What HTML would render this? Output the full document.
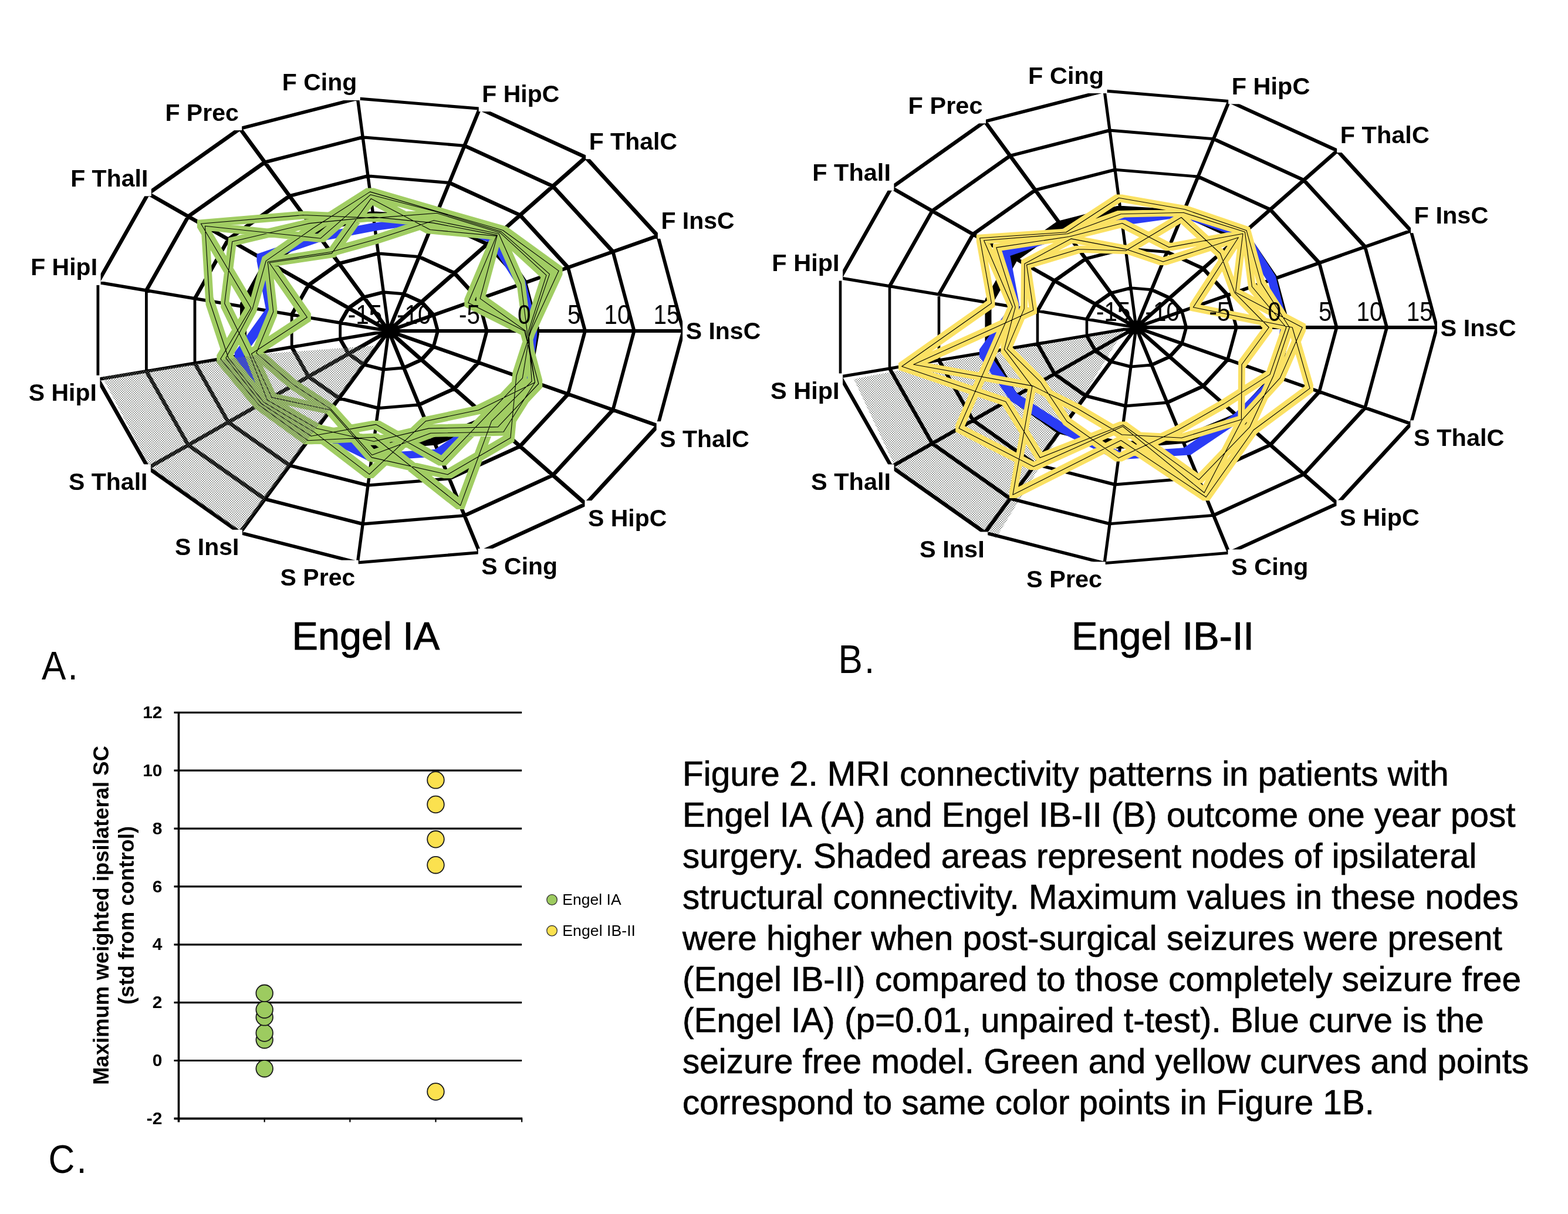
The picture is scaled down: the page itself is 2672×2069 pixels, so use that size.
<!DOCTYPE html>
<html lang="en"><head><meta charset="utf-8"><title>Figure 2</title>
<style>
html,body{margin:0;padding:0;background:#fff}
body{width:2672px;height:2069px;overflow:hidden;position:relative}
svg{position:absolute;left:0;top:0;display:block}
text{font-family:"Liberation Sans",sans-serif;fill:#000}
.b{font-weight:700}
.t{stroke:#000;stroke-width:1.0px}
.cap{position:absolute;left:1163px;top:1283.5px;width:1500px;margin:0;font-family:"Liberation Sans",sans-serif;font-size:58.45px;line-height:70px;color:#000;white-space:nowrap;-webkit-text-stroke:0.7px #000}
</style></head><body>
<svg width="2672" height="2069" viewBox="0 0 2672 2069" xmlns="http://www.w3.org/2000/svg">
<defs>
<pattern id="dots" width="4" height="4" patternUnits="userSpaceOnUse">
<rect x="0" y="0" width="1.6" height="1.6" fill="#6a6e6a"/><rect x="2" y="2" width="1.6" height="1.6" fill="#6a6e6a"/>
</pattern>
</defs>
<rect width="2672" height="2069" fill="#fff"/>
<g id="chartA">
<path fill="#000" d="M659.4 561.1L1167.2 561.1L1167.2 566.9L659.4 566.9ZM659.9 561.6L1118.5 399.6L1123.3 399.6L1123.3 404.4L664.7 566.4L659.9 566.4ZM659.9 561.6L995.8 265.6L1000.6 265.6L1000.6 270.4L664.7 566.4L659.9 566.4ZM659.9 561.6L815.0 182.8L819.8 182.8L819.8 187.6L664.7 566.4L659.9 566.4ZM607.0 165.5L611.8 165.5L664.7 561.6L664.7 566.4L659.9 566.4L607.0 170.3ZM406.6 216.7L411.4 216.7L664.7 561.6L664.7 566.4L659.9 566.4L406.6 221.5ZM250.1 327.5L254.9 327.5L664.7 561.6L664.7 566.4L659.9 566.4L250.1 332.3ZM164.5 478.8L169.3 478.8L664.7 561.6L664.7 566.4L659.9 566.4L164.5 483.6ZM164.5 644.1L659.9 561.6L664.7 561.6L664.7 566.4L169.3 648.9L164.5 648.9ZM250.1 795.0L659.9 561.6L664.7 561.6L664.7 566.4L254.9 799.8L250.1 799.8ZM406.6 905.4L659.9 561.6L664.7 561.6L664.7 566.4L411.4 910.2L406.6 910.2ZM607.0 956.4L659.9 561.6L664.7 561.6L664.7 566.4L611.8 961.2L607.0 961.2ZM659.9 561.6L664.7 561.6L819.8 939.2L819.8 944.0L815.0 944.0L659.9 566.4ZM659.9 561.6L664.7 561.6L1000.6 856.6L1000.6 861.4L995.8 861.4L659.9 566.4ZM659.9 561.6L664.7 561.6L1123.3 723.1L1123.3 727.9L1118.5 727.9L659.9 566.4ZM736.3 534.6L741.1 534.6L748.4 561.6L748.4 566.4L743.6 566.4L736.3 539.4ZM715.9 512.3L720.7 512.3L741.1 534.6L741.1 539.4L736.3 539.4L715.9 517.1ZM685.8 498.5L690.5 498.5L720.7 512.3L720.7 517.1L715.9 517.1L685.8 503.3ZM651.1 495.6L655.9 495.6L690.5 498.5L690.5 503.3L685.8 503.3L651.1 500.4ZM617.7 504.1L651.1 495.6L655.9 495.6L655.9 500.4L622.5 508.9L617.7 508.9ZM591.6 522.6L617.7 504.1L622.5 504.1L622.5 508.9L596.4 527.4L591.6 527.4ZM577.3 547.8L591.6 522.6L596.4 522.6L596.4 527.4L582.1 552.6L577.3 552.6ZM577.3 547.8L582.1 547.8L582.1 580.2L577.3 580.2ZM577.3 575.4L582.1 575.4L596.4 600.5L596.4 605.3L591.6 605.3L577.3 580.2ZM591.6 600.5L596.4 600.5L622.5 618.9L622.5 623.7L617.7 623.7L591.6 605.3ZM617.7 618.9L622.5 618.9L655.9 627.4L655.9 632.2L651.1 632.2L617.7 623.7ZM651.1 627.4L685.8 624.5L690.5 624.5L690.5 629.3L655.9 632.2L651.1 632.2ZM685.8 624.5L715.9 610.8L720.7 610.8L720.7 615.6L690.5 629.3L685.8 629.3ZM715.9 610.8L736.3 588.5L741.1 588.5L741.1 593.3L720.7 615.6L715.9 615.6ZM736.3 588.5L743.6 561.6L748.4 561.6L748.4 566.4L741.1 593.3L736.3 593.3ZM812.8 507.6L817.6 507.6L832.0 561.6L832.0 566.4L827.2 566.4L812.8 512.4ZM771.9 462.9L776.7 462.9L817.6 507.6L817.6 512.4L812.8 512.4L771.9 467.7ZM711.6 435.3L716.4 435.3L776.7 462.9L776.7 467.7L771.9 467.7L711.6 440.1ZM642.2 429.6L647.0 429.6L716.4 435.3L716.4 440.1L711.6 440.1L642.2 434.4ZM575.5 446.6L642.2 429.6L647.0 429.6L647.0 434.4L580.3 451.4L575.5 451.4ZM523.3 483.6L575.5 446.6L580.3 446.6L580.3 451.4L528.1 488.4L523.3 488.4ZM494.8 534.0L523.3 483.6L528.1 483.6L528.1 488.4L499.6 538.8L494.8 538.8ZM494.8 534.0L499.6 534.0L499.6 593.9L494.8 593.9ZM494.8 589.1L499.6 589.1L528.1 639.4L528.1 644.2L523.3 644.2L494.8 593.9ZM523.3 639.4L528.1 639.4L580.3 676.2L580.3 681.0L575.5 681.0L523.3 644.2ZM575.5 676.2L580.3 676.2L647.0 693.2L647.0 698.0L642.2 698.0L575.5 681.0ZM642.2 693.2L711.6 687.5L716.4 687.5L716.4 692.3L647.0 698.0L642.2 698.0ZM711.6 687.5L771.9 659.9L776.7 659.9L776.7 664.7L716.4 692.3L711.6 692.3ZM771.9 659.9L812.8 615.4L817.6 615.4L817.6 620.2L776.7 664.7L771.9 664.7ZM812.8 615.4L827.2 561.6L832.0 561.6L832.0 566.4L817.6 620.2L812.8 620.2ZM889.2 480.6L894.0 480.6L915.7 561.6L915.7 566.4L910.9 566.4L889.2 485.4ZM827.9 413.6L832.6 413.6L894.0 480.6L894.0 485.4L889.2 485.4L827.9 418.4ZM737.5 372.2L742.3 372.2L832.6 413.6L832.6 418.4L827.9 418.4L737.5 377.0ZM633.4 363.5L638.2 363.5L742.3 372.2L742.3 377.0L737.5 377.0L633.4 368.3ZM533.3 389.1L633.4 363.5L638.2 363.5L638.2 368.3L538.1 393.9L533.3 393.9ZM455.0 444.5L533.3 389.1L538.1 389.1L538.1 393.9L459.8 449.3L455.0 449.3ZM412.2 520.2L455.0 444.5L459.8 444.5L459.8 449.3L417.0 525.0L412.2 525.0ZM412.2 520.2L417.0 520.2L417.0 607.7L412.2 607.7ZM412.2 602.9L417.0 602.9L459.8 678.3L459.8 683.1L455.0 683.1L412.2 607.7ZM455.0 678.3L459.8 678.3L538.1 733.5L538.1 738.3L533.3 738.3L455.0 683.1ZM533.3 733.5L538.1 733.5L638.2 759.0L638.2 763.8L633.4 763.8L533.3 738.3ZM633.4 759.0L737.5 750.4L742.3 750.4L742.3 755.2L638.2 763.8L633.4 763.8ZM737.5 750.4L827.9 709.1L832.6 709.1L832.6 713.9L742.3 755.2L737.5 755.2ZM827.9 709.1L889.2 642.3L894.0 642.3L894.0 647.1L832.6 713.9L827.9 713.9ZM889.2 642.3L910.9 561.6L915.7 561.6L915.7 566.4L894.0 647.1L889.2 647.1ZM965.6 453.6L970.4 453.6L999.4 561.6L999.4 566.4L994.6 566.4L965.6 458.4ZM883.8 364.3L888.6 364.3L970.4 453.6L970.4 458.4L965.6 458.4L883.8 369.1ZM763.3 309.1L768.1 309.1L888.6 364.3L888.6 369.1L883.8 369.1L763.3 313.9ZM624.6 297.5L629.4 297.5L768.1 309.1L768.1 313.9L763.3 313.9L624.6 302.3ZM491.1 331.6L624.6 297.5L629.4 297.5L629.4 302.3L495.9 336.4L491.1 336.4ZM386.7 405.5L491.1 331.6L495.9 331.6L495.9 336.4L391.5 410.3L386.7 410.3ZM329.6 506.4L386.7 405.5L391.5 405.5L391.5 410.3L334.4 511.2L329.6 511.2ZM329.6 506.4L334.4 506.4L334.4 621.4L329.6 621.4ZM329.6 616.6L334.4 616.6L391.5 717.2L391.5 722.0L386.7 722.0L329.6 621.4ZM386.7 717.2L391.5 717.2L495.9 790.8L495.9 795.6L491.1 795.6L386.7 722.0ZM491.1 790.8L495.9 790.8L629.4 824.8L629.4 829.6L624.6 829.6L491.1 795.6ZM624.6 824.8L763.3 813.3L768.1 813.3L768.1 818.1L629.4 829.6L624.6 829.6ZM763.3 813.3L883.8 758.3L888.6 758.3L888.6 763.1L768.1 818.1L763.3 818.1ZM883.8 758.3L965.6 669.2L970.4 669.2L970.4 674.0L888.6 763.1L883.8 763.1ZM965.6 669.2L994.6 561.6L999.4 561.6L999.4 566.4L970.4 674.0L965.6 674.0ZM1042.1 426.6L1046.9 426.6L1083.0 561.6L1083.0 566.4L1078.2 566.4L1042.1 431.4ZM939.8 314.9L944.6 314.9L1046.9 426.6L1046.9 431.4L1042.1 431.4L939.8 319.7ZM789.2 245.9L794.0 245.9L944.6 314.9L944.6 319.7L939.8 319.7L789.2 250.7ZM615.8 231.5L620.6 231.5L794.0 245.9L794.0 250.7L789.2 250.7L615.8 236.3ZM448.9 274.1L615.8 231.5L620.6 231.5L620.6 236.3L453.7 278.9L448.9 278.9ZM318.4 366.5L448.9 274.1L453.7 274.1L453.7 278.9L323.2 371.3L318.4 371.3ZM247.0 492.6L318.4 366.5L323.2 366.5L323.2 371.3L251.8 497.4L247.0 497.4ZM247.0 492.6L251.8 492.6L251.8 635.2L247.0 635.2ZM247.0 630.4L251.8 630.4L323.2 756.1L323.2 760.9L318.4 760.9L247.0 635.2ZM318.4 756.1L323.2 756.1L453.7 848.1L453.7 852.9L448.9 852.9L318.4 760.9ZM448.9 848.1L453.7 848.1L620.6 890.6L620.6 895.4L615.8 895.4L448.9 852.9ZM615.8 890.6L789.2 876.2L794.0 876.2L794.0 881.0L620.6 895.4L615.8 895.4ZM789.2 876.2L939.8 807.5L944.6 807.5L944.6 812.3L794.0 881.0L789.2 881.0ZM939.8 807.5L1042.1 696.2L1046.9 696.2L1046.9 701.0L944.6 812.3L939.8 812.3ZM1042.1 696.2L1078.2 561.6L1083.0 561.6L1083.0 566.4L1046.9 701.0L1042.1 701.0ZM1118.5 399.6L1123.3 399.6L1166.7 561.6L1166.7 566.4L1161.9 566.4L1118.5 404.4ZM995.8 265.6L1000.6 265.6L1123.3 399.6L1123.3 404.4L1118.5 404.4L995.8 270.4ZM815.0 182.8L819.8 182.8L1000.6 265.6L1000.6 270.4L995.8 270.4L815.0 187.6ZM607.0 165.5L611.8 165.5L819.8 182.8L819.8 187.6L815.0 187.6L607.0 170.3ZM406.6 216.7L607.0 165.5L611.8 165.5L611.8 170.3L411.4 221.5L406.6 221.5ZM250.1 327.5L406.6 216.7L411.4 216.7L411.4 221.5L254.9 332.3L250.1 332.3ZM164.5 478.8L250.1 327.5L254.9 327.5L254.9 332.3L169.3 483.6L164.5 483.6ZM164.5 478.8L169.3 478.8L169.3 648.9L164.5 648.9ZM164.5 644.1L169.3 644.1L254.9 795.0L254.9 799.8L250.1 799.8L164.5 648.9ZM250.1 795.0L254.9 795.0L411.4 905.4L411.4 910.2L406.6 910.2L250.1 799.8ZM406.6 905.4L411.4 905.4L611.8 956.4L611.8 961.2L607.0 961.2L406.6 910.2ZM607.0 956.4L815.0 939.2L819.8 939.2L819.8 944.0L611.8 961.2L607.0 961.2ZM815.0 939.2L995.8 856.6L1000.6 856.6L1000.6 861.4L819.8 944.0L815.0 944.0ZM995.8 856.6L1118.5 723.1L1123.3 723.1L1123.3 727.9L1000.6 861.4L995.8 861.4ZM1118.5 723.1L1161.9 561.6L1166.7 561.6L1166.7 566.4L1123.3 727.9L1118.5 727.9Z"/>
<path fill="#000" d="M886.1 477.5L897.1 477.5L918.8 558.5L918.8 569.5L907.8 569.5L886.1 488.5ZM834.8 401.6L845.8 401.6L897.1 477.5L897.1 488.5L886.1 488.5L834.8 412.6ZM735.1 367.2L746.1 367.2L845.8 401.6L845.8 412.6L834.8 412.6L735.1 378.2ZM630.3 360.4L641.3 360.4L746.1 367.2L746.1 378.2L735.1 378.2L630.3 371.4ZM530.2 386.0L630.3 360.4L641.3 360.4L641.3 371.4L541.2 397.0L530.2 397.0ZM451.9 441.4L530.2 386.0L541.2 386.0L541.2 397.0L462.9 452.4L451.9 452.4ZM409.1 517.1L451.9 441.4L462.9 441.4L462.9 452.4L420.1 528.1L409.1 528.1ZM409.1 517.1L420.1 517.1L420.1 610.8L409.1 610.8ZM409.1 599.8L420.1 599.8L462.9 675.2L462.9 686.2L451.9 686.2L409.1 610.8ZM451.9 675.2L462.9 675.2L541.2 730.4L541.2 741.4L530.2 741.4L451.9 686.2ZM530.2 730.4L541.2 730.4L641.3 755.9L641.3 766.9L630.3 766.9L530.2 741.4ZM630.3 755.9L734.4 747.3L745.4 747.3L745.4 758.3L641.3 766.9L630.3 766.9ZM734.4 747.3L827.4 708.4L838.4 708.4L838.4 719.4L745.4 758.3L734.4 758.3ZM827.4 708.4L893.0 641.7L904.0 641.7L904.0 652.7L838.4 719.4L827.4 719.4ZM893.0 641.7L907.8 558.5L918.8 558.5L918.8 569.5L904.0 652.7L893.0 652.7Z"/>
<path fill="#2a3cf5" d="M883.3 477.8L895.3 477.8L915.3 558.0L915.3 570.0L903.3 570.0L883.3 489.8ZM834.3 401.1L846.3 401.1L895.3 477.8L895.3 489.8L883.3 489.8L834.3 413.1ZM734.6 366.7L746.6 366.7L846.3 401.1L846.3 413.1L834.3 413.1L734.6 378.7ZM632.6 380.5L734.6 366.7L746.6 366.7L746.6 378.7L644.6 392.5L632.6 392.5ZM539.0 398.3L632.6 380.5L644.6 380.5L644.6 392.5L551.0 410.3L539.0 410.3ZM437.5 433.0L539.0 398.3L551.0 398.3L551.0 410.3L449.5 445.0L437.5 445.0ZM437.5 433.0L449.5 433.0L466.7 524.3L466.7 536.3L454.7 536.3L437.5 445.0ZM399.7 600.8L454.7 524.3L466.7 524.3L466.7 536.3L411.7 612.8L399.7 612.8ZM399.7 600.8L411.7 600.8L463.4 674.7L463.4 686.7L451.4 686.7L399.7 612.8ZM451.4 674.7L463.4 674.7L544.2 726.5L544.2 738.5L532.2 738.5L451.4 686.7ZM532.2 726.5L544.2 726.5L639.5 773.2L639.5 785.2L627.5 785.2L532.2 738.5ZM627.5 773.2L741.6 765.7L753.6 765.7L753.6 777.7L639.5 785.2L627.5 785.2ZM741.6 765.7L826.9 707.9L838.9 707.9L838.9 719.9L753.6 777.7L741.6 777.7ZM826.9 707.9L893.4 641.5L905.4 641.5L905.4 653.5L838.9 719.9L826.9 719.9ZM893.4 641.5L903.3 558.0L915.3 558.0L915.3 570.0L905.4 653.5L893.4 653.5Z"/>
<path fill="#a1cd63" d="M791.3 509.6L804.3 509.6L900.2 557.5L900.2 570.5L887.2 570.5L791.3 522.6ZM811.7 502.4L824.7 502.4L902.2 557.5L902.2 570.5L889.2 570.5L811.7 515.4ZM881.4 477.8L894.4 477.8L904.7 557.5L904.7 570.5L891.7 570.5L881.4 490.8ZM894.2 557.5L924.5 462.6L937.5 462.6L937.5 475.6L907.2 570.5L894.2 570.5ZM896.8 557.5L930.0 460.6L943.0 460.6L943.0 473.6L909.8 570.5L896.8 570.5ZM898.3 557.5L945.6 455.1L958.6 455.1L958.6 468.1L911.3 570.5L898.3 570.5ZM791.3 509.6L839.5 395.6L852.5 395.6L852.5 408.6L804.3 522.6L791.3 522.6ZM811.7 502.4L840.9 394.4L853.9 394.4L853.9 407.4L824.7 515.4L811.7 515.4ZM843.6 392.0L856.6 392.0L894.4 477.8L894.4 490.8L881.4 490.8L843.6 405.0ZM845.6 390.2L858.6 390.2L937.5 462.6L937.5 475.6L924.5 475.6L845.6 403.2ZM847.7 388.4L860.7 388.4L943.0 460.6L943.0 473.6L930.0 473.6L847.7 401.4ZM850.5 386.0L863.5 386.0L958.6 455.1L958.6 468.1L945.6 468.1L850.5 399.0ZM726.5 384.9L739.5 384.9L852.5 395.6L852.5 408.6L839.5 408.6L726.5 397.9ZM731.2 373.4L744.2 373.4L853.9 394.4L853.9 407.4L840.9 407.4L731.2 386.4ZM732.9 369.2L745.9 369.2L856.6 392.0L856.6 405.0L843.6 405.0L732.9 382.2ZM738.0 356.7L751.0 356.7L858.6 390.2L858.6 403.2L845.6 403.2L738.0 369.7ZM738.8 354.8L751.8 354.8L860.7 388.4L860.7 401.4L847.7 401.4L738.8 367.8ZM739.1 354.1L752.1 354.1L863.5 386.0L863.5 399.0L850.5 399.0L739.1 367.1ZM624.1 320.4L637.1 320.4L752.1 354.1L752.1 367.1L739.1 367.1L624.1 333.4ZM624.8 325.3L637.8 325.3L751.8 354.8L751.8 367.8L738.8 367.8L624.8 338.3ZM625.7 332.1L638.7 332.1L739.5 384.9L739.5 397.9L726.5 397.9L625.7 345.1ZM630.1 365.1L738.0 356.7L751.0 356.7L751.0 369.7L643.1 378.1L630.1 378.1ZM629.9 363.4L642.9 363.4L744.2 373.4L744.2 386.4L731.2 386.4L629.9 376.4ZM634.9 401.2L732.9 369.2L745.9 369.2L745.9 382.2L647.9 414.2L634.9 414.2ZM527.1 382.3L624.1 320.4L637.1 320.4L637.1 333.4L540.1 395.3L527.1 395.3ZM539.9 399.7L624.8 325.3L637.8 325.3L637.8 338.3L552.9 412.7L539.9 412.7ZM558.8 425.4L625.7 332.1L638.7 332.1L638.7 345.1L571.8 438.4L558.8 438.4ZM510.8 359.9L523.8 359.9L643.1 365.1L643.1 378.1L630.1 378.1L510.8 372.9ZM521.1 374.1L629.9 363.4L642.9 363.4L642.9 376.4L534.1 387.1L521.1 387.1ZM557.0 423.0L634.9 401.2L647.9 401.2L647.9 414.2L570.0 436.0L557.0 436.0ZM335.9 374.8L510.8 359.9L523.8 359.9L523.8 372.9L348.9 387.8L335.9 387.8ZM342.9 378.7L355.9 378.7L552.9 399.7L552.9 412.7L539.9 412.7L342.9 391.7ZM389.3 405.3L521.1 374.1L534.1 374.1L534.1 387.1L402.3 418.3L389.3 418.3ZM446.8 438.1L527.1 382.3L540.1 382.3L540.1 395.3L459.8 451.1L446.8 451.1ZM449.7 439.7L557.0 423.0L570.0 423.0L570.0 436.0L462.7 452.7L449.7 452.7ZM452.4 441.3L558.8 425.4L571.8 425.4L571.8 438.4L465.4 454.3L452.4 454.3ZM342.9 378.7L355.9 378.7L363.6 506.5L363.6 519.5L350.6 519.5L342.9 391.7ZM376.2 510.8L389.3 405.3L402.3 405.3L402.3 418.3L389.2 523.8L376.2 523.8ZM335.9 374.8L348.9 374.8L434.2 518.3L434.2 531.3L421.2 531.3L335.9 387.8ZM424.0 518.8L446.8 438.1L459.8 438.1L459.8 451.1L437.0 531.8L424.0 531.8ZM449.7 439.7L462.7 439.7L472.3 524.7L472.3 537.7L459.3 537.7L449.7 452.7ZM452.4 441.3L465.4 441.3L529.9 534.3L529.9 547.3L516.9 547.3L452.4 454.3ZM350.6 506.5L363.6 506.5L395.5 603.0L395.5 616.0L382.5 616.0L350.6 519.5ZM376.2 510.8L389.2 510.8L431.5 597.0L431.5 610.0L418.5 610.0L376.2 523.8ZM369.3 605.2L421.2 518.3L434.2 518.3L434.2 531.3L382.3 618.2L369.3 618.2ZM378.4 603.7L424.0 518.8L437.0 518.8L437.0 531.8L391.4 616.7L378.4 616.7ZM430.3 595.1L459.3 524.7L472.3 524.7L472.3 537.7L443.3 608.1L430.3 608.1ZM422.0 596.5L516.9 534.3L529.9 534.3L529.9 547.3L435.0 609.5L422.0 609.5ZM369.3 605.2L382.3 605.2L447.5 683.5L447.5 696.5L434.5 696.5L369.3 618.2ZM378.4 603.7L391.4 603.7L451.6 681.2L451.6 694.2L438.6 694.2L378.4 616.7ZM382.5 603.0L395.5 603.0L455.7 678.8L455.7 691.8L442.7 691.8L382.5 616.0ZM418.5 597.0L431.5 597.0L461.9 675.3L461.9 688.3L448.9 688.3L418.5 610.0ZM422.0 596.5L435.0 596.5L469.6 670.9L469.6 683.9L456.6 683.9L422.0 609.5ZM430.3 595.1L443.3 595.1L507.1 649.6L507.1 662.6L494.1 662.6L430.3 608.1ZM494.1 649.6L507.1 649.6L570.6 690.9L570.6 703.9L557.6 703.9L494.1 662.6ZM456.6 670.9L469.6 670.9L569.5 692.3L569.5 705.3L556.5 705.3L456.6 683.9ZM448.9 675.3L461.9 675.3L546.4 723.7L546.4 736.7L533.4 736.7L448.9 688.3ZM442.7 678.8L455.7 678.8L541.8 729.9L541.8 742.9L528.8 742.9L442.7 691.8ZM438.6 681.2L451.6 681.2L536.8 736.8L536.8 749.8L523.8 749.8L438.6 694.2ZM434.5 683.5L447.5 683.5L531.2 744.3L531.2 757.3L518.2 757.3L434.5 696.5ZM557.6 690.9L570.6 690.9L640.4 769.0L640.4 782.0L627.4 782.0L557.6 703.9ZM556.5 692.3L569.5 692.3L639.9 773.1L639.9 786.1L626.9 786.1L556.5 705.3ZM533.4 723.7L546.4 723.7L643.6 745.7L643.6 758.7L630.6 758.7L533.4 736.7ZM528.8 729.9L541.8 729.9L636.0 801.9L636.0 814.9L623.0 814.9L528.8 742.9ZM523.8 736.8L634.4 716.9L647.4 716.9L647.4 729.9L536.8 749.8L523.8 749.8ZM518.2 744.3L631.5 738.8L644.5 738.8L644.5 751.8L531.2 757.3L518.2 757.3ZM634.4 716.9L647.4 716.9L760.4 780.4L760.4 793.4L747.4 793.4L634.4 729.9ZM631.5 738.8L644.5 738.8L791.1 855.1L791.1 868.1L778.1 868.1L631.5 751.8ZM630.6 745.7L724.0 723.6L737.0 723.6L737.0 736.6L643.6 758.7L630.6 758.7ZM627.4 769.0L727.4 731.8L740.4 731.8L740.4 744.8L640.4 782.0L627.4 782.0ZM626.9 773.1L639.9 773.1L769.4 802.3L769.4 815.3L756.4 815.3L626.9 786.1ZM623.0 801.9L719.0 711.2L732.0 711.2L732.0 724.2L636.0 814.9L623.0 814.9ZM719.0 711.2L809.1 692.1L822.1 692.1L822.1 705.1L732.0 724.2L719.0 724.2ZM724.0 723.6L842.1 721.1L855.1 721.1L855.1 734.1L737.0 736.6L724.0 736.6ZM727.4 731.8L851.6 729.5L864.6 729.5L864.6 742.5L740.4 744.8L727.4 744.8ZM747.4 780.4L821.7 703.2L834.7 703.2L834.7 716.2L760.4 793.4L747.4 793.4ZM756.4 802.3L863.4 739.8L876.4 739.8L876.4 752.8L769.4 815.3L756.4 815.3ZM778.1 855.1L831.1 711.5L844.1 711.5L844.1 724.5L791.1 868.1L778.1 868.1ZM809.1 692.1L905.1 645.3L918.1 645.3L918.1 658.3L822.1 705.1L809.1 705.1ZM821.7 703.2L883.9 637.8L896.9 637.8L896.9 650.8L834.7 716.2L821.7 716.2ZM831.1 711.5L899.6 643.4L912.6 643.4L912.6 656.4L844.1 724.5L831.1 724.5ZM842.1 721.1L911.3 647.5L924.3 647.5L924.3 660.5L855.1 734.1L842.1 734.1ZM851.6 729.5L905.1 645.3L918.1 645.3L918.1 658.3L864.6 742.5L851.6 742.5ZM863.4 739.8L873.5 634.2L886.5 634.2L886.5 647.2L876.4 752.8L863.4 752.8ZM887.2 557.5L900.2 557.5L924.3 647.5L924.3 660.5L911.3 660.5L887.2 570.5ZM889.2 557.5L902.2 557.5L918.1 645.3L918.1 658.3L905.1 658.3L889.2 570.5ZM891.7 557.5L904.7 557.5L918.1 645.3L918.1 658.3L905.1 658.3L891.7 570.5ZM894.2 557.5L907.2 557.5L912.6 643.4L912.6 656.4L899.6 656.4L894.2 570.5ZM883.9 637.8L896.8 557.5L909.8 557.5L909.8 570.5L896.9 650.8L883.9 650.8ZM873.5 634.2L898.3 557.5L911.3 557.5L911.3 570.5L886.5 647.2L873.5 647.2Z"/>
<path fill="none" stroke="#000" stroke-width="1.1" stroke-linecap="round" d="M893.7 564.0L797.8 516.1M895.7 564.0L818.2 508.9M898.2 564.0L887.9 484.3M900.8 564.0L931.0 469.1M903.3 564.0L936.5 467.1M904.8 564.0L952.1 461.6M797.8 516.1L846.0 402.1M818.2 508.9L847.4 400.9M887.9 484.3L850.1 398.5M931.0 469.1L852.2 396.7M936.5 467.1L854.2 394.9M952.1 461.6L857.0 392.5M846.0 402.1L733.0 391.5M847.4 400.9L737.7 379.9M850.1 398.5L739.4 375.7M852.2 396.7L744.5 363.2M854.2 394.9L745.3 361.3M857.0 392.5L745.6 360.6M745.6 360.6L630.6 326.9M745.3 361.3L631.3 331.8M733.0 391.5L632.2 338.6M744.5 363.2L636.6 371.6M737.7 379.9L636.4 369.9M739.4 375.7L641.4 407.7M630.6 326.9L533.6 388.8M631.3 331.8L546.4 406.2M632.2 338.6L565.3 431.9M636.6 371.6L517.3 366.5M636.4 369.9L527.6 380.6M641.4 407.7L563.5 429.5M517.3 366.5L342.4 381.2M546.4 406.2L349.4 385.2M527.6 380.6L395.8 411.8M533.6 388.8L453.3 444.6M563.5 429.5L456.2 446.2M565.3 431.9L458.9 447.8M349.4 385.2L357.1 513.0M395.8 411.8L382.7 517.3M342.4 381.2L427.7 524.8M453.3 444.6L430.5 525.3M456.2 446.2L465.8 531.2M458.9 447.8L523.4 540.8M357.1 513.0L389.0 609.5M382.7 517.3L425.0 603.5M427.7 524.8L375.8 611.7M430.5 525.3L384.9 610.2M465.8 531.2L436.8 601.6M523.4 540.8L428.5 603.0M375.8 611.7L441.0 690.0M384.9 610.2L445.1 687.7M389.0 609.5L449.2 685.3M425.0 603.5L455.4 681.8M428.5 603.0L463.2 677.4M436.8 601.6L500.6 656.1M500.6 656.1L564.1 697.4M463.2 677.4L563.0 698.8M455.4 681.8L539.9 730.2M449.2 685.3L535.3 736.4M445.1 687.7L530.3 743.3M441.0 690.0L524.7 750.8M564.1 697.4L633.9 775.5M563.0 698.8L633.4 779.6M539.9 730.2L637.1 752.2M535.3 736.4L629.5 808.4M530.3 743.3L640.9 723.4M524.7 750.8L638.0 745.3M640.9 723.4L753.9 786.9M638.0 745.3L784.6 861.6M637.1 752.2L730.5 730.1M633.9 775.5L733.9 738.3M633.4 779.6L762.9 808.8M629.5 808.4L725.5 717.7M725.5 717.7L815.6 698.7M730.5 730.1L848.6 727.6M733.9 738.3L858.1 736.0M753.9 786.9L828.2 709.7M762.9 808.8L869.9 746.3M784.6 861.6L837.6 717.9M815.6 698.7L911.6 651.8M828.2 709.7L890.4 644.3M837.6 717.9L906.1 649.9M848.6 727.6L917.8 654.0M858.1 736.0L911.6 651.8M869.9 746.3L880.0 640.7M917.8 654.0L893.7 564.0M911.6 651.8L895.7 564.0M911.6 651.8L898.2 564.0M906.1 649.9L900.8 564.0M890.4 644.3L903.3 564.0M880.0 640.7L904.8 564.0"/>
<polygon points="174,642 256,797 410,907 641,589 450,603" fill="url(#dots)"/>
<rect x="475.3" y="110.8" width="138.5" height="60.1" fill="#fff"/>
<rect x="275.9" y="162.0" width="136.3" height="60.1" fill="#fff"/>
<rect x="114.7" y="274.2" width="143.1" height="60.1" fill="#fff"/>
<rect x="46.7" y="425.8" width="124.9" height="60.1" fill="#fff"/>
<rect x="815.8" y="130.0" width="143.1" height="60.1" fill="#fff"/>
<rect x="998.2" y="211.1" width="161.3" height="60.1" fill="#fff"/>
<rect x="1120.9" y="346.7" width="136.3" height="60.1" fill="#fff"/>
<rect x="1163.2" y="534.8" width="138.6" height="60.1" fill="#fff"/>
<rect x="43.2" y="639.7" width="127.2" height="60.1" fill="#fff"/>
<rect x="111.5" y="791.3" width="145.4" height="60.1" fill="#fff"/>
<rect x="292.5" y="902.8" width="120.4" height="60.1" fill="#fff"/>
<rect x="472.1" y="954.7" width="138.6" height="60.1" fill="#fff"/>
<rect x="814.8" y="934.9" width="140.8" height="60.1" fill="#fff"/>
<rect x="996.5" y="853.1" width="145.4" height="60.1" fill="#fff"/>
<rect x="1118.7" y="718.2" width="163.6" height="60.1" fill="#fff"/>
<text class="b" x="480.8" y="154.4" font-size="41">F Cing</text>
<text class="b" x="281.4" y="205.6" font-size="41">F Prec</text>
<text class="b" x="120.2" y="317.8" font-size="41">F ThalI</text>
<text class="b" x="52.2" y="469.4" font-size="41">F HipI</text>
<text class="b" x="821.3" y="173.6" font-size="41">F HipC</text>
<text class="b" x="1003.7" y="254.7" font-size="41">F ThalC</text>
<text class="b" x="1126.4" y="390.3" font-size="41">F InsC</text>
<text class="b" x="1168.7" y="578.4" font-size="41">S InsC</text>
<text class="b" x="48.7" y="683.3" font-size="41">S HipI</text>
<text class="b" x="117" y="834.9" font-size="41">S ThalI</text>
<text class="b" x="298" y="946.4" font-size="41">S InsI</text>
<text class="b" x="477.6" y="998.3" font-size="41">S Prec</text>
<text class="b" x="820.3" y="978.5" font-size="41">S Cing</text>
<text class="b" x="1002" y="896.7" font-size="41">S HipC</text>
<text class="b" x="1124.2" y="761.8" font-size="41">S ThalC</text>
<text transform="translate(651.3,551.8) scale(0.88,1)" font-size="46" text-anchor="end">-15</text>
<text transform="translate(734.5,551.8) scale(0.88,1)" font-size="46" text-anchor="end">-10</text>
<text transform="translate(818.0,551.8) scale(0.88,1)" font-size="46" text-anchor="end">-5</text>
<text transform="translate(904.5,551.8) scale(0.88,1)" font-size="46" text-anchor="end">0</text>
<text transform="translate(989.5,551.8) scale(0.88,1)" font-size="46" text-anchor="end">5</text>
<text transform="translate(1074.5,551.8) scale(0.88,1)" font-size="46" text-anchor="end">10</text>
<text transform="translate(1158.5,551.8) scale(0.88,1)" font-size="46" text-anchor="end">15</text>
</g>
<g id="chartB">
<polygon points="1455,646 1527,799 1697,917 1918,558" fill="url(#dots)"/>
<path fill="#000" d="M1933.1 555.1L2451.5 555.1L2451.5 560.9L1933.1 560.9ZM1933.7 555.7L2402.0 390.9L2406.6 390.9L2406.6 395.4L1938.3 560.3L1933.7 560.3ZM1933.7 555.7L2276.7 254.5L2281.3 254.5L2281.3 259.1L1938.3 560.3L1933.7 560.3ZM1933.7 555.7L2092.1 170.2L2096.7 170.2L2096.7 174.8L1938.3 560.3L1933.7 560.3ZM1879.8 152.6L1884.4 152.6L1938.3 555.7L1938.3 560.3L1933.7 560.3L1879.8 157.2ZM1676.0 204.7L1680.7 204.7L1938.3 555.7L1938.3 560.3L1933.7 560.3L1676.0 209.3ZM1516.8 317.5L1521.4 317.5L1938.3 555.7L1938.3 560.3L1933.7 560.3L1516.8 322.1ZM1429.7 471.4L1434.3 471.4L1938.3 555.7L1938.3 560.3L1933.7 560.3L1429.7 476.0ZM1429.7 639.7L1933.7 555.7L1938.3 555.7L1938.3 560.3L1434.3 644.3L1429.7 644.3ZM1516.8 793.2L1933.7 555.7L1938.3 555.7L1938.3 560.3L1521.4 797.8L1516.8 797.8ZM1676.0 905.6L1933.7 555.7L1938.3 555.7L1938.3 560.3L1680.7 910.2L1676.0 910.2ZM1879.8 957.5L1933.7 555.7L1938.3 555.7L1938.3 560.3L1884.4 962.1L1879.8 962.1ZM1933.7 555.7L1938.3 555.7L2096.7 939.9L2096.7 944.5L2092.1 944.5L1933.7 560.3ZM1933.7 555.7L1938.3 555.7L2281.3 855.9L2281.3 860.5L2276.7 860.5L1933.7 560.3ZM1933.7 555.7L1938.3 555.7L2406.6 720.0L2406.6 724.6L2402.0 724.6L1933.7 560.3ZM2011.8 528.2L2016.3 528.2L2023.7 555.7L2023.7 560.3L2019.1 560.3L2011.8 532.8ZM1990.9 505.5L1995.5 505.5L2016.3 528.2L2016.3 532.8L2011.8 532.8L1990.9 510.1ZM1960.1 491.5L1964.7 491.5L1995.5 505.5L1995.5 510.1L1990.9 510.1L1960.1 496.1ZM1924.7 488.5L1929.3 488.5L1964.7 491.5L1964.7 496.1L1960.1 496.1L1924.7 493.1ZM1890.8 497.2L1924.7 488.5L1929.3 488.5L1929.3 493.1L1895.4 501.8L1890.8 501.8ZM1864.2 516.0L1890.8 497.2L1895.4 497.2L1895.4 501.8L1868.8 520.6L1864.2 520.6ZM1849.7 541.7L1864.2 516.0L1868.8 516.0L1868.8 520.6L1854.3 546.3L1849.7 546.3ZM1849.7 541.7L1854.3 541.7L1854.3 574.3L1849.7 574.3ZM1849.7 569.7L1854.3 569.7L1868.8 595.3L1868.8 599.9L1864.2 599.9L1849.7 574.3ZM1864.2 595.3L1868.8 595.3L1895.4 614.0L1895.4 618.6L1890.8 618.6L1864.2 599.9ZM1890.8 614.0L1895.4 614.0L1929.3 622.7L1929.3 627.3L1924.7 627.3L1890.8 618.6ZM1924.7 622.7L1960.1 619.7L1964.7 619.7L1964.7 624.3L1929.3 627.3L1924.7 627.3ZM1960.1 619.7L1990.9 605.7L1995.5 605.7L1995.5 610.3L1964.7 624.3L1960.1 624.3ZM1990.9 605.7L2011.8 583.1L2016.3 583.1L2016.3 587.7L1995.5 610.3L1990.9 610.3ZM2011.8 583.1L2019.1 555.7L2023.7 555.7L2023.7 560.3L2016.3 587.7L2011.8 587.7ZM2089.8 500.8L2094.4 500.8L2109.2 555.7L2109.2 560.3L2104.6 560.3L2089.8 505.4ZM2048.0 455.3L2052.6 455.3L2094.4 500.8L2094.4 505.4L2089.8 505.4L2048.0 459.9ZM1986.5 427.2L1991.1 427.2L2052.6 455.3L2052.6 459.9L2048.0 459.9L1986.5 431.8ZM1915.8 421.3L1920.3 421.3L1991.1 427.2L1991.1 431.8L1986.5 431.8L1915.8 425.9ZM1847.8 438.7L1915.8 421.3L1920.3 421.3L1920.3 425.9L1852.4 443.3L1847.8 443.3ZM1794.7 476.3L1847.8 438.7L1852.4 438.7L1852.4 443.3L1799.3 480.9L1794.7 480.9ZM1765.7 527.6L1794.7 476.3L1799.3 476.3L1799.3 480.9L1770.3 532.2L1765.7 532.2ZM1765.7 527.6L1770.3 527.6L1770.3 588.3L1765.7 588.3ZM1765.7 583.7L1770.3 583.7L1799.3 634.9L1799.3 639.5L1794.7 639.5L1765.7 588.3ZM1794.7 634.9L1799.3 634.9L1852.4 672.3L1852.4 676.9L1847.8 676.9L1794.7 639.5ZM1847.8 672.3L1852.4 672.3L1920.3 689.6L1920.3 694.2L1915.8 694.2L1847.8 676.9ZM1915.8 689.6L1986.5 683.8L1991.1 683.8L1991.1 688.4L1920.3 694.2L1915.8 694.2ZM1986.5 683.8L2048.0 655.8L2052.6 655.8L2052.6 660.4L1991.1 688.4L1986.5 688.4ZM2048.0 655.8L2089.8 610.5L2094.4 610.5L2094.4 615.1L2052.6 660.4L2048.0 660.4ZM2089.8 610.5L2104.6 555.7L2109.2 555.7L2109.2 560.3L2094.4 615.1L2089.8 615.1ZM2167.8 473.3L2172.4 473.3L2194.6 555.7L2194.6 560.3L2190.0 560.3L2167.8 477.9ZM2105.2 405.1L2109.8 405.1L2172.4 473.3L2172.4 477.9L2167.8 477.9L2105.2 409.7ZM2012.9 363.0L2017.5 363.0L2109.8 405.1L2109.8 409.7L2105.2 409.7L2012.9 367.6ZM1906.8 354.2L1911.4 354.2L2017.5 363.0L2017.5 367.6L2012.9 367.6L1906.8 358.8ZM1804.9 380.2L1906.8 354.2L1911.4 354.2L1911.4 358.8L1809.5 384.8L1804.9 384.8ZM1725.3 436.6L1804.9 380.2L1809.5 380.2L1809.5 384.8L1729.9 441.2L1725.3 441.2ZM1681.7 513.6L1725.3 436.6L1729.9 436.6L1729.9 441.2L1686.3 518.2L1681.7 518.2ZM1681.7 513.6L1686.3 513.6L1686.3 602.3L1681.7 602.3ZM1681.7 597.7L1686.3 597.7L1729.9 674.4L1729.9 679.0L1725.3 679.0L1681.7 602.3ZM1725.3 674.4L1729.9 674.4L1809.5 730.6L1809.5 735.2L1804.9 735.2L1725.3 679.0ZM1804.9 730.6L1809.5 730.6L1911.4 756.6L1911.4 761.2L1906.8 761.2L1804.9 735.2ZM1906.8 756.6L2012.9 747.8L2017.5 747.8L2017.5 752.4L1911.4 761.2L1906.8 761.2ZM2012.9 747.8L2105.2 705.8L2109.8 705.8L2109.8 710.4L2017.5 752.4L2012.9 752.4ZM2105.2 705.8L2167.8 637.9L2172.4 637.9L2172.4 642.5L2109.8 710.4L2105.2 710.4ZM2167.8 637.9L2190.0 555.7L2194.6 555.7L2194.6 560.3L2172.4 642.5L2167.8 642.5ZM2245.9 445.8L2250.5 445.8L2280.0 555.7L2280.0 560.3L2275.4 560.3L2245.9 450.4ZM2162.4 354.9L2167.0 354.9L2250.5 445.8L2250.5 450.4L2245.9 450.4L2162.4 359.5ZM2039.3 298.7L2043.9 298.7L2167.0 354.9L2167.0 359.5L2162.4 359.5L2039.3 303.3ZM1897.8 287.0L1902.4 287.0L2043.9 298.7L2043.9 303.3L2039.3 303.3L1897.8 291.6ZM1761.9 321.7L1897.8 287.0L1902.4 287.0L1902.4 291.6L1766.5 326.3L1761.9 326.3ZM1655.8 396.9L1761.9 321.7L1766.5 321.7L1766.5 326.3L1660.4 401.5L1655.8 401.5ZM1597.7 499.5L1655.8 396.9L1660.4 396.9L1660.4 401.5L1602.3 504.1L1597.7 504.1ZM1597.7 499.5L1602.3 499.5L1602.3 616.3L1597.7 616.3ZM1597.7 611.7L1602.3 611.7L1660.4 714.0L1660.4 718.6L1655.8 718.6L1597.7 616.3ZM1655.8 714.0L1660.4 714.0L1766.5 789.0L1766.5 793.5L1761.9 793.5L1655.8 718.6ZM1761.9 789.0L1766.5 789.0L1902.4 823.6L1902.4 828.2L1897.8 828.2L1761.9 793.5ZM1897.8 823.6L2039.3 811.9L2043.9 811.9L2043.9 816.5L1902.4 828.2L1897.8 828.2ZM2039.3 811.9L2162.4 755.9L2167.0 755.9L2167.0 760.5L2043.9 816.5L2039.3 816.5ZM2162.4 755.9L2245.9 665.2L2250.5 665.2L2250.5 669.9L2167.0 760.5L2162.4 760.5ZM2245.9 665.2L2275.4 555.7L2280.0 555.7L2280.0 560.3L2250.5 669.9L2245.9 669.9ZM2323.9 418.3L2328.5 418.3L2365.5 555.7L2365.5 560.3L2360.9 560.3L2323.9 422.9ZM2219.5 304.7L2224.1 304.7L2328.5 418.3L2328.5 422.9L2323.9 422.9L2219.5 309.3ZM2065.7 234.5L2070.3 234.5L2224.1 304.7L2224.1 309.3L2219.5 309.3L2065.7 239.1ZM1888.8 219.8L1893.4 219.8L2070.3 234.5L2070.3 239.1L2065.7 239.1L1888.8 224.4ZM1719.0 263.2L1888.8 219.8L1893.4 219.8L1893.4 224.4L1723.6 267.8L1719.0 267.8ZM1586.3 357.2L1719.0 263.2L1723.6 263.2L1723.6 267.8L1590.9 361.8L1586.3 361.8ZM1513.7 485.5L1586.3 357.2L1590.9 357.2L1590.9 361.8L1518.3 490.1L1513.7 490.1ZM1513.7 485.5L1518.3 485.5L1518.3 630.3L1513.7 630.3ZM1513.7 625.7L1518.3 625.7L1590.9 753.6L1590.9 758.2L1586.3 758.2L1513.7 630.3ZM1586.3 753.6L1590.9 753.6L1723.6 847.3L1723.6 851.9L1719.0 851.9L1586.3 758.2ZM1719.0 847.3L1723.6 847.3L1893.4 890.5L1893.4 895.1L1888.8 895.1L1719.0 851.9ZM1888.8 890.5L2065.7 875.9L2070.3 875.9L2070.3 880.5L1893.4 895.1L1888.8 895.1ZM2065.7 875.9L2219.5 805.9L2224.1 805.9L2224.1 810.5L2070.3 880.5L2065.7 880.5ZM2219.5 805.9L2323.9 692.6L2328.5 692.6L2328.5 697.2L2224.1 810.5L2219.5 810.5ZM2323.9 692.6L2360.9 555.7L2365.5 555.7L2365.5 560.3L2328.5 697.2L2323.9 697.2ZM2402.0 390.9L2406.6 390.9L2450.9 555.7L2450.9 560.3L2446.3 560.3L2402.0 395.4ZM2276.7 254.5L2281.3 254.5L2406.6 390.9L2406.6 395.4L2402.0 395.4L2276.7 259.1ZM2092.1 170.2L2096.7 170.2L2281.3 254.5L2281.3 259.1L2276.7 259.1L2092.1 174.8ZM1879.8 152.6L1884.4 152.6L2096.7 170.2L2096.7 174.8L2092.1 174.8L1879.8 157.2ZM1676.0 204.7L1879.8 152.6L1884.4 152.6L1884.4 157.2L1680.7 209.3L1676.0 209.3ZM1516.8 317.5L1676.0 204.7L1680.7 204.7L1680.7 209.3L1521.4 322.1L1516.8 322.1ZM1429.7 471.4L1516.8 317.5L1521.4 317.5L1521.4 322.1L1434.3 476.0L1429.7 476.0ZM1429.7 471.4L1434.3 471.4L1434.3 644.3L1429.7 644.3ZM1429.7 639.7L1434.3 639.7L1521.4 793.2L1521.4 797.8L1516.8 797.8L1429.7 644.3ZM1516.8 793.2L1521.4 793.2L1680.7 905.6L1680.7 910.2L1676.0 910.2L1516.8 797.8ZM1676.0 905.6L1680.7 905.6L1884.4 957.5L1884.4 962.1L1879.8 962.1L1676.0 910.2ZM1879.8 957.5L2092.1 939.9L2096.7 939.9L2096.7 944.5L1884.4 962.1L1879.8 962.1ZM2092.1 939.9L2276.7 855.9L2281.3 855.9L2281.3 860.5L2096.7 944.5L2092.1 944.5ZM2276.7 855.9L2402.0 720.0L2406.6 720.0L2406.6 724.6L2281.3 860.5L2276.7 860.5ZM2402.0 720.0L2446.3 555.7L2450.9 555.7L2450.9 560.3L2406.6 724.6L2402.0 724.6Z"/>
<path fill="#000" d="M2164.6 470.1L2175.6 470.1L2197.8 552.5L2197.8 563.5L2186.8 563.5L2164.6 481.1ZM2112.3 392.9L2123.3 392.9L2175.6 470.1L2175.6 481.1L2164.6 481.1L2112.3 403.9ZM2010.5 357.8L2021.5 357.8L2123.3 392.9L2123.3 403.9L2112.3 403.9L2010.5 368.8ZM1903.6 351.0L1914.6 351.0L2021.5 357.8L2021.5 368.8L2010.5 368.8L1903.6 362.0ZM1801.7 377.0L1903.6 351.0L1914.6 351.0L1914.6 362.0L1812.7 388.0L1801.7 388.0ZM1722.1 433.4L1801.7 377.0L1812.7 377.0L1812.7 388.0L1733.1 444.4L1722.1 444.4ZM1678.5 510.4L1722.1 433.4L1733.1 433.4L1733.1 444.4L1689.5 521.4L1678.5 521.4ZM1678.5 510.4L1689.5 510.4L1689.5 605.5L1678.5 605.5ZM1678.5 594.5L1689.5 594.5L1733.1 671.2L1733.1 682.2L1722.1 682.2L1678.5 605.5ZM1722.1 671.2L1733.1 671.2L1812.7 727.4L1812.7 738.4L1801.7 738.4L1722.1 682.2ZM1801.7 727.4L1812.7 727.4L1914.6 753.4L1914.6 764.4L1903.6 764.4L1801.7 738.4ZM1903.6 753.4L2009.7 744.6L2020.7 744.6L2020.7 755.6L1914.6 764.4L1903.6 764.4ZM2009.7 744.6L2104.7 705.0L2115.7 705.0L2115.7 716.0L2020.7 755.6L2009.7 755.6ZM2104.7 705.0L2171.7 637.1L2182.7 637.1L2182.7 648.1L2115.7 716.0L2104.7 716.0ZM2171.7 637.1L2186.8 552.5L2197.8 552.5L2197.8 563.5L2182.7 648.1L2171.7 648.1Z"/>
<path fill="#2a3cf5" d="M2161.8 470.4L2173.8 470.4L2194.2 552.0L2194.2 564.0L2182.2 564.0L2161.8 482.4ZM2111.8 392.4L2123.8 392.4L2173.8 470.4L2173.8 482.4L2161.8 482.4L2111.8 404.4ZM2010.0 357.3L2022.0 357.3L2123.8 392.4L2123.8 404.4L2111.8 404.4L2010.0 369.3ZM1905.9 371.4L2010.0 357.3L2022.0 357.3L2022.0 369.3L1917.9 383.4L1905.9 383.4ZM1810.7 389.5L1905.9 371.4L1917.9 371.4L1917.9 383.4L1822.7 401.5L1810.7 401.5ZM1707.4 424.8L1810.7 389.5L1822.7 389.5L1822.7 401.5L1719.4 436.8L1707.4 436.8ZM1707.4 424.8L1719.4 424.8L1736.9 517.7L1736.9 529.7L1724.9 529.7L1707.4 436.8ZM1668.9 595.5L1724.9 517.7L1736.9 517.7L1736.9 529.7L1680.9 607.5L1668.9 607.5ZM1668.9 595.5L1680.9 595.5L1733.6 670.7L1733.6 682.7L1721.6 682.7L1668.9 607.5ZM1721.6 670.7L1733.6 670.7L1815.8 723.4L1815.8 735.4L1803.8 735.4L1721.6 682.7ZM1803.8 723.4L1815.8 723.4L1912.6 771.0L1912.6 783.0L1900.6 783.0L1803.8 735.4ZM1900.6 771.0L2017.1 763.3L2029.1 763.3L2029.1 775.3L1912.6 783.0L1900.6 783.0ZM2017.1 763.3L2104.2 704.5L2116.2 704.5L2116.2 716.5L2029.1 775.3L2017.1 775.3ZM2104.2 704.5L2172.1 637.0L2184.1 637.0L2184.1 649.0L2116.2 716.5L2104.2 716.5ZM2172.1 637.0L2182.2 552.0L2194.2 552.0L2194.2 564.0L2184.1 649.0L2172.1 649.0Z"/>
<path fill="#fbe163" d="M2098.1 493.0L2109.8 493.0L2168.2 552.1L2168.2 563.9L2156.5 563.9L2098.1 504.7ZM2127.6 482.6L2139.3 482.6L2197.7 552.1L2197.7 563.9L2186.0 563.9L2127.6 494.3ZM2143.4 477.1L2155.1 477.1L2203.3 552.1L2203.3 563.9L2191.6 563.9L2143.4 488.8ZM2027.5 517.9L2039.2 517.9L2208.0 552.1L2208.0 563.9L2196.3 563.9L2027.5 529.6ZM2099.7 492.5L2111.4 492.5L2225.2 552.1L2225.2 563.9L2213.5 563.9L2099.7 504.2ZM2027.5 517.9L2104.6 399.0L2116.3 399.0L2116.3 410.7L2039.2 529.6L2027.5 529.6ZM2073.7 426.1L2085.4 426.1L2109.8 493.0L2109.8 504.7L2098.1 504.7L2073.7 437.8ZM2099.7 492.5L2112.1 392.4L2123.8 392.4L2123.8 404.1L2111.4 504.2L2099.7 504.2ZM2115.5 389.4L2127.2 389.4L2139.3 482.6L2139.3 494.3L2127.6 494.3L2115.5 401.1ZM2118.3 386.9L2130.0 386.9L2155.1 477.1L2155.1 488.8L2143.4 488.8L2118.3 398.6ZM2007.2 364.7L2018.9 364.7L2085.4 426.1L2085.4 437.8L2073.7 437.8L2007.2 376.4ZM1976.1 440.3L2104.6 399.0L2116.3 399.0L2116.3 410.7L1987.8 452.0L1976.1 452.0ZM1986.3 415.5L2112.1 392.4L2123.8 392.4L2123.8 404.1L1998.0 427.2L1986.3 427.2ZM2010.6 356.4L2022.3 356.4L2127.2 389.4L2127.2 401.1L2115.5 401.1L2010.6 368.1ZM2012.8 350.9L2024.5 350.9L2130.0 386.9L2130.0 398.6L2118.3 398.6L2012.8 362.6ZM1900.7 331.4L1912.3 331.4L2024.5 350.9L2024.5 362.6L2012.8 362.6L1900.7 343.1ZM1904.3 358.9L2010.6 356.4L2022.3 356.4L2022.3 368.1L1916.0 370.6L1904.3 370.6ZM1912.7 421.4L2007.2 364.7L2018.9 364.7L2018.9 376.4L1924.4 433.1L1912.7 433.1ZM1906.4 374.7L1918.1 374.7L1998.0 415.5L1998.0 427.2L1986.3 427.2L1906.4 386.4ZM1912.3 418.7L1924.0 418.7L1987.8 440.3L1987.8 452.0L1976.1 452.0L1912.3 430.4ZM1811.1 390.0L1900.7 331.4L1912.3 331.4L1912.3 343.1L1822.8 401.7L1811.1 401.7ZM1813.1 392.7L1904.3 358.9L1916.0 358.9L1916.0 370.6L1824.8 404.4L1813.1 404.4ZM1816.5 397.3L1906.4 374.7L1918.1 374.7L1918.1 386.4L1828.2 409.0L1816.5 409.0ZM1819.3 401.1L1831.0 401.1L1924.0 418.7L1924.0 430.4L1912.3 430.4L1819.3 412.8ZM1832.3 418.8L1844.0 418.8L1924.4 421.4L1924.4 433.1L1912.7 433.1L1832.3 430.5ZM1663.8 400.0L1811.1 390.0L1822.8 390.0L1822.8 401.7L1675.5 411.7L1663.8 411.7ZM1670.8 403.9L1813.1 392.7L1824.8 392.7L1824.8 404.4L1682.5 415.6L1670.8 415.6ZM1692.0 416.1L1816.5 397.3L1828.2 397.3L1828.2 409.0L1703.7 427.8L1692.0 427.8ZM1740.1 443.6L1819.3 401.1L1831.0 401.1L1831.0 412.8L1751.8 455.3L1740.1 455.3ZM1743.6 445.6L1832.3 418.8L1844.0 418.8L1844.0 430.5L1755.3 457.3L1743.6 457.3ZM1663.8 400.0L1675.5 400.0L1695.5 511.0L1695.5 522.7L1683.8 522.7L1663.8 411.7ZM1670.8 403.9L1682.5 403.9L1731.2 516.9L1731.2 528.6L1719.5 528.6L1670.8 415.6ZM1692.0 416.1L1703.7 416.1L1736.0 517.7L1736.0 529.4L1724.3 529.4L1692.0 427.8ZM1739.4 520.3L1740.1 443.6L1751.8 443.6L1751.8 455.3L1751.1 532.0L1739.4 532.0ZM1743.6 445.6L1755.3 445.6L1767.0 522.9L1767.0 534.6L1755.2 534.6L1743.6 457.3ZM1531.0 618.7L1683.8 511.0L1695.5 511.0L1695.5 522.7L1542.7 630.4L1531.0 630.4ZM1550.9 615.4L1755.2 522.9L1767.0 522.9L1767.0 534.6L1562.6 627.0L1550.9 627.0ZM1686.3 592.8L1719.5 516.9L1731.2 516.9L1731.2 528.6L1698.0 604.5L1686.3 604.5ZM1705.5 589.6L1724.3 517.7L1736.0 517.7L1736.0 529.4L1717.2 601.3L1705.5 601.3ZM1710.3 588.8L1739.4 520.3L1751.1 520.3L1751.1 532.0L1722.0 600.5L1710.3 600.5ZM1531.0 618.7L1542.7 618.7L1719.7 678.7L1719.7 690.4L1708.0 690.4L1531.0 630.4ZM1550.9 615.4L1562.6 615.4L1766.4 652.1L1766.4 663.8L1754.7 663.8L1550.9 627.0ZM1628.2 724.1L1686.3 592.8L1698.0 592.8L1698.0 604.5L1639.9 735.8L1628.2 735.8ZM1705.5 589.6L1717.2 589.6L1764.7 653.1L1764.7 664.8L1753.0 664.8L1705.5 601.3ZM1710.3 588.8L1722.0 588.8L1778.8 645.0L1778.8 656.7L1767.2 656.7L1710.3 600.5ZM1628.2 724.1L1639.9 724.1L1767.2 789.4L1767.2 801.1L1755.5 801.1L1628.2 735.8ZM1708.0 678.7L1719.7 678.7L1778.3 774.2L1778.3 786.0L1766.6 786.0L1708.0 690.4ZM1720.1 837.4L1753.0 653.1L1764.7 653.1L1764.7 664.8L1731.8 849.1L1720.1 849.1ZM1754.7 652.1L1766.4 652.1L1840.6 689.6L1840.6 701.4L1828.9 701.4L1754.7 663.8ZM1767.2 645.0L1778.8 645.0L1823.8 712.4L1823.8 724.1L1812.2 724.1L1767.2 656.7ZM1828.9 689.6L1840.6 689.6L1917.3 735.0L1917.3 746.7L1905.6 746.7L1828.9 701.4ZM1812.2 712.4L1823.8 712.4L1912.0 774.7L1912.0 786.4L1900.3 786.4L1812.2 724.1ZM1766.6 774.2L1907.8 718.5L1919.5 718.5L1919.5 730.2L1778.3 786.0L1766.6 786.0ZM1755.5 789.4L1907.5 720.9L1919.2 720.9L1919.2 732.6L1767.2 801.1L1755.5 801.1ZM1720.1 837.4L1904.3 744.6L1916.0 744.6L1916.0 756.3L1731.8 849.1L1720.1 849.1ZM1905.6 735.0L1917.3 735.0L2019.5 740.5L2019.5 752.2L2007.8 752.2L1905.6 746.7ZM1900.3 774.7L2002.1 726.7L2013.8 726.7L2013.8 738.4L1912.0 786.4L1900.3 786.4ZM1907.8 718.5L1919.5 718.5L2048.9 811.9L2048.9 823.6L2037.2 823.6L1907.8 730.2ZM1907.5 720.9L1919.2 720.9L2058.0 833.9L2058.0 845.6L2046.3 845.6L1907.5 732.6ZM1904.3 744.6L1916.0 744.6L2061.1 841.5L2061.1 853.2L2049.4 853.2L1904.3 756.3ZM2002.1 726.7L2079.3 682.8L2091.1 682.8L2091.1 694.5L2013.8 738.4L2002.1 738.4ZM2007.8 740.5L2109.5 709.2L2121.2 709.2L2121.2 720.9L2019.5 752.2L2007.8 752.2ZM2037.2 811.9L2123.9 721.8L2135.6 721.8L2135.6 733.5L2048.9 823.6L2037.2 823.6ZM2046.3 833.9L2110.6 710.1L2122.3 710.1L2122.3 721.8L2058.0 845.6L2046.3 845.6ZM2049.4 841.5L2130.1 727.2L2141.8 727.2L2141.8 738.9L2061.1 853.2L2049.4 853.2ZM2079.3 682.8L2158.3 632.2L2170.0 632.2L2170.0 643.9L2091.1 694.5L2079.3 694.5ZM2109.5 709.2L2110.2 615.3L2121.9 615.3L2121.9 627.0L2121.2 720.9L2109.5 720.9ZM2110.6 710.1L2175.5 638.2L2187.2 638.2L2187.2 649.9L2122.3 721.8L2110.6 721.8ZM2123.9 721.8L2164.3 634.3L2176.0 634.3L2176.0 646.0L2135.6 733.5L2123.9 733.5ZM2130.1 727.2L2226.3 656.1L2238.0 656.1L2238.0 667.8L2141.8 738.9L2130.1 738.9ZM2110.2 615.3L2156.5 552.1L2168.2 552.1L2168.2 563.9L2121.9 627.0L2110.2 627.0ZM2158.3 632.2L2186.0 552.1L2197.7 552.1L2197.7 563.9L2170.0 643.9L2158.3 643.9ZM2164.3 634.3L2191.6 552.1L2203.3 552.1L2203.3 563.9L2176.0 646.0L2164.3 646.0ZM2175.5 638.2L2213.5 552.1L2225.2 552.1L2225.2 563.9L2187.2 649.9L2175.5 649.9ZM2196.3 552.1L2208.0 552.1L2238.0 656.1L2238.0 667.8L2226.3 667.8L2196.3 563.9Z"/>
<path fill="none" stroke="#000" stroke-width="1.1" stroke-linecap="round" d="M2162.3 558.0L2104.0 498.9M2191.9 558.0L2133.5 488.5M2197.4 558.0L2149.3 482.9M2202.2 558.0L2033.4 523.7M2219.3 558.0L2105.5 498.3M2033.4 523.7L2110.4 404.8M2104.0 498.9L2079.5 432.0M2105.5 498.3L2118.0 398.2M2133.5 488.5L2121.4 395.2M2149.3 482.9L2124.1 392.8M2079.5 432.0L2013.0 370.5M2110.4 404.8L1982.0 446.1M2118.0 398.2L1992.1 421.4M2121.4 395.2L2016.4 362.3M2124.1 392.8L2018.7 356.8M2018.7 356.8L1906.5 337.2M2016.4 362.3L1910.2 364.7M2013.0 370.5L1918.5 427.3M1992.1 421.4L1912.3 380.5M1982.0 446.1L1918.2 424.6M1906.5 337.2L1817.0 395.8M1910.2 364.7L1818.9 398.5M1912.3 380.5L1822.4 403.2M1918.2 424.6L1825.1 406.9M1918.5 427.3L1838.1 424.7M1817.0 395.8L1669.7 405.8M1818.9 398.5L1676.6 409.8M1822.4 403.2L1697.8 421.9M1825.1 406.9L1746.0 449.4M1838.1 424.7L1749.5 451.4M1669.7 405.8L1689.6 516.8M1676.6 409.8L1725.4 522.8M1697.8 421.9L1730.2 523.6M1746.0 449.4L1745.3 526.1M1749.5 451.4L1761.1 528.8M1689.6 516.8L1536.8 624.5M1761.1 528.8L1556.8 621.2M1725.4 522.8L1692.1 598.6M1730.2 523.6L1711.3 595.4M1745.3 526.1L1716.2 594.6M1536.8 624.5L1713.8 684.5M1556.8 621.2L1760.6 657.9M1692.1 598.6L1634.1 730.0M1711.3 595.4L1758.8 658.9M1716.2 594.6L1773.0 650.8M1634.1 730.0L1761.3 795.2M1713.8 684.5L1772.4 780.1M1758.8 658.9L1725.9 843.3M1760.6 657.9L1834.7 695.5M1773.0 650.8L1818.0 718.2M1834.7 695.5L1911.5 740.8M1818.0 718.2L1906.2 780.6M1772.4 780.1L1913.7 724.3M1761.3 795.2L1913.4 726.8M1725.9 843.3L1910.2 750.5M1911.5 740.8L2013.6 746.3M1906.2 780.6L2008.0 732.6M1913.7 724.3L2043.1 817.7M1913.4 726.8L2052.2 839.8M1910.2 750.5L2055.3 847.3M2008.0 732.6L2085.2 688.6M2013.6 746.3L2115.4 715.0M2043.1 817.7L2129.8 727.6M2052.2 839.8L2116.4 715.9M2055.3 847.3L2136.0 733.0M2085.2 688.6L2164.1 638.1M2115.4 715.0L2116.1 621.2M2116.4 715.9L2181.3 644.1M2129.8 727.6L2170.1 640.2M2136.0 733.0L2232.1 661.9M2116.1 621.2L2162.3 558.0M2164.1 638.1L2191.9 558.0M2170.1 640.2L2197.4 558.0M2181.3 644.1L2219.3 558.0M2232.1 661.9L2202.2 558.0"/>
<rect x="1746.6" y="98.9" width="140.1" height="60.1" fill="#fff"/>
<rect x="1542.1" y="150.2" width="137.9" height="60.1" fill="#fff"/>
<rect x="1378.7" y="264.6" width="144.7" height="60.1" fill="#fff"/>
<rect x="1309.8" y="418.4" width="126.3" height="60.1" fill="#fff"/>
<rect x="2093.2" y="117.2" width="144.7" height="60.1" fill="#fff"/>
<rect x="2278.2" y="199.9" width="163.2" height="60.1" fill="#fff"/>
<rect x="2404.1" y="337.0" width="137.8" height="60.1" fill="#fff"/>
<rect x="2449.0" y="529.4" width="140.1" height="60.1" fill="#fff"/>
<rect x="1307.5" y="636.4" width="128.6" height="60.1" fill="#fff"/>
<rect x="1376.5" y="791.4" width="147.1" height="60.1" fill="#fff"/>
<rect x="1561.5" y="906.4" width="121.7" height="60.1" fill="#fff"/>
<rect x="1743.5" y="957.4" width="140.2" height="60.1" fill="#fff"/>
<rect x="2092.5" y="936.4" width="142.4" height="60.1" fill="#fff"/>
<rect x="2277.5" y="852.4" width="147.0" height="60.1" fill="#fff"/>
<rect x="2403.5" y="716.4" width="165.5" height="60.1" fill="#fff"/>
<text class="b" x="1752.1" y="142.5" font-size="41.5">F Cing</text>
<text class="b" x="1547.6" y="193.8" font-size="41.5">F Prec</text>
<text class="b" x="1384.2" y="308.2" font-size="41.5">F ThalI</text>
<text class="b" x="1315.3" y="462" font-size="41.5">F HipI</text>
<text class="b" x="2098.7" y="160.8" font-size="41.5">F HipC</text>
<text class="b" x="2283.7" y="243.5" font-size="41.5">F ThalC</text>
<text class="b" x="2409.6" y="380.6" font-size="41.5">F InsC</text>
<text class="b" x="2454.5" y="573" font-size="41.5">S InsC</text>
<text class="b" x="1313" y="680" font-size="41.5">S HipI</text>
<text class="b" x="1382" y="835" font-size="41.5">S ThalI</text>
<text class="b" x="1567" y="950" font-size="41.5">S InsI</text>
<text class="b" x="1749" y="1001" font-size="41.5">S Prec</text>
<text class="b" x="2098" y="980" font-size="41.5">S Cing</text>
<text class="b" x="2283" y="896" font-size="41.5">S HipC</text>
<text class="b" x="2409" y="760" font-size="41.5">S ThalC</text>
<text transform="translate(1926.5,546.8) scale(0.88,1)" font-size="46" text-anchor="end">-15</text>
<text transform="translate(2009.9,546.8) scale(0.88,1)" font-size="46" text-anchor="end">-10</text>
<text transform="translate(2096.5,546.8) scale(0.88,1)" font-size="46" text-anchor="end">-5</text>
<text transform="translate(2182.9,546.8) scale(0.88,1)" font-size="46" text-anchor="end">0</text>
<text transform="translate(2269.5,546.8) scale(0.88,1)" font-size="46" text-anchor="end">5</text>
<text transform="translate(2356.5,546.8) scale(0.88,1)" font-size="46" text-anchor="end">10</text>
<text transform="translate(2441.7,546.8) scale(0.88,1)" font-size="46" text-anchor="end">15</text>
</g>
<text class="t" x="497.5" y="1107.2" font-size="66.6">Engel IA</text>
<text class="t" x="1826" y="1107.2" font-size="66.6">Engel IB-II</text>
<text transform="translate(71,1157.5) scale(0.9,1)" font-size="69">A<tspan dx="3.5">.</tspan></text>
<text transform="translate(1428.5,1146.5) scale(0.9,1)" font-size="69">B<tspan dx="3.5">.</tspan></text>
<text transform="translate(82.5,1999) scale(0.9,1)" font-size="69">C<tspan dx="3.5">.</tspan></text>
<g id="scatter">
<line x1="296.5" y1="1214.3" x2="889.2" y2="1214.3" stroke="#000" stroke-width="3.2"/>
<line x1="296.5" y1="1313.2" x2="889.2" y2="1313.2" stroke="#000" stroke-width="3.2"/>
<line x1="296.5" y1="1412.1" x2="889.2" y2="1412.1" stroke="#000" stroke-width="3.2"/>
<line x1="296.5" y1="1510.9" x2="889.2" y2="1510.9" stroke="#000" stroke-width="3.2"/>
<line x1="296.5" y1="1609.8" x2="889.2" y2="1609.8" stroke="#000" stroke-width="3.2"/>
<line x1="296.5" y1="1708.6" x2="889.2" y2="1708.6" stroke="#000" stroke-width="3.2"/>
<line x1="296.5" y1="1807.5" x2="889.2" y2="1807.5" stroke="#000" stroke-width="3.2"/>
<line x1="296.5" y1="1906.4" x2="890.2" y2="1906.4" stroke="#000" stroke-width="3.6"/>
<line x1="304.5" y1="1213.3" x2="304.5" y2="1912.4" stroke="#000" stroke-width="3.6"/>
<line x1="450.7" y1="1906.4" x2="450.7" y2="1912.4" stroke="#000" stroke-width="2.2"/>
<line x1="596.4" y1="1906.4" x2="596.4" y2="1912.4" stroke="#000" stroke-width="2.2"/>
<line x1="742.5" y1="1906.4" x2="742.5" y2="1912.4" stroke="#000" stroke-width="2.2"/>
<line x1="889.2" y1="1906.4" x2="889.2" y2="1912.4" stroke="#000" stroke-width="2.2"/>
<text class="b" x="276.5" y="1223.9" font-size="30" text-anchor="end">12</text>
<text class="b" x="276.5" y="1322.8" font-size="30" text-anchor="end">10</text>
<text class="b" x="276.5" y="1421.7" font-size="30" text-anchor="end">8</text>
<text class="b" x="276.5" y="1520.5" font-size="30" text-anchor="end">6</text>
<text class="b" x="276.5" y="1619.4" font-size="30" text-anchor="end">4</text>
<text class="b" x="276.5" y="1718.2" font-size="30" text-anchor="end">2</text>
<text class="b" x="276.5" y="1817.1" font-size="30" text-anchor="end">0</text>
<text class="b" x="276.5" y="1916.0" font-size="30" text-anchor="end">-2</text>
<circle cx="450.7" cy="1821.2" r="14.3" fill="#9dcb60" stroke="#1a1a1a" stroke-width="1.8"/>
<circle cx="450.7" cy="1772.2" r="14.3" fill="#9dcb60" stroke="#1a1a1a" stroke-width="1.8"/>
<circle cx="450.7" cy="1760.5" r="14.3" fill="#9dcb60" stroke="#1a1a1a" stroke-width="1.8"/>
<circle cx="450.7" cy="1733.4" r="14.3" fill="#9dcb60" stroke="#1a1a1a" stroke-width="1.8"/>
<circle cx="450.7" cy="1720.8" r="14.3" fill="#9dcb60" stroke="#1a1a1a" stroke-width="1.8"/>
<circle cx="450.7" cy="1692.8" r="14.3" fill="#9dcb60" stroke="#1a1a1a" stroke-width="1.8"/>
<circle cx="742.5" cy="1860.5" r="14.3" fill="#fbe14f" stroke="#1a1a1a" stroke-width="1.8"/>
<circle cx="742.5" cy="1474.2" r="14.3" fill="#fbe14f" stroke="#1a1a1a" stroke-width="1.8"/>
<circle cx="742.5" cy="1430.3" r="14.3" fill="#fbe14f" stroke="#1a1a1a" stroke-width="1.8"/>
<circle cx="742.5" cy="1371" r="14.3" fill="#fbe14f" stroke="#1a1a1a" stroke-width="1.8"/>
<circle cx="742.5" cy="1329.4" r="14.3" fill="#fbe14f" stroke="#1a1a1a" stroke-width="1.8"/>
<text class="b" transform="translate(185.4,1560) rotate(-90)" font-size="36.5" text-anchor="middle">Maximum weighted ipsilateral SC</text>
<text class="b" transform="translate(228.3,1560) rotate(-90)" font-size="36.5" text-anchor="middle">(std from control)</text>
<circle cx="940.6" cy="1533.5" r="8.8" fill="#9dcb60" stroke="#333" stroke-width="1.3"/>
<circle cx="940.6" cy="1586.3" r="8.8" fill="#fbe14f" stroke="#333" stroke-width="1.3"/>
<text x="958.3" y="1542" font-size="25.5" textLength="100.4" lengthAdjust="spacingAndGlyphs" fill="#222">Engel IA</text>
<text x="958.3" y="1594.8" font-size="25.5" textLength="124.7" lengthAdjust="spacingAndGlyphs" fill="#222">Engel IB-II</text>
</g>
</svg>
<p class="cap">Figure 2. MRI connectivity patterns in patients with<br>Engel IA (A) and Engel IB-II (B) outcome one year post<br>surgery. Shaded areas represent nodes of ipsilateral<br>structural connectivity. Maximum values in these nodes<br>were higher when post-surgical seizures were present<br>(Engel IB-II) compared to those completely seizure free<br>(Engel IA) (p=0.01, unpaired t-test). Blue curve is the<br>seizure free model. Green and yellow curves and points<br>correspond to same color points in Figure 1B.</p>
</body></html>
